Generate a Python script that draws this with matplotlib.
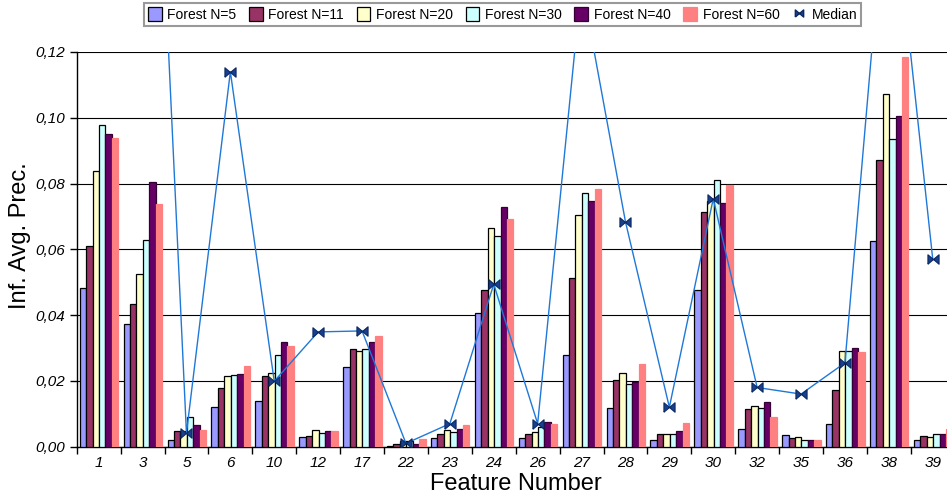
import matplotlib
matplotlib.use("Agg")
import matplotlib.pyplot as plt
import numpy as np
from matplotlib.lines import Line2D
from matplotlib.patches import Patch

features = ['1', '3', '5', '6', '10', '12', '17', '22', '23', '24', '26', '27',
            '28', '29', '30', '32', '35', '36', '38', '39']

n5 = [0.0481, 0.0373, 0.0021, 0.0121, 0.0139, 0.0028, 0.0243, 0.0003, 0.0027, 0.0408,
      0.0025, 0.0280, 0.0117, 0.0020, 0.0477, 0.0053, 0.0036, 0.0070, 0.0624, 0.0021]
n11 = [0.0610, 0.0435, 0.0048, 0.0177, 0.0216, 0.0032, 0.0296, 0.0008, 0.0039, 0.0475,
       0.0039, 0.0514, 0.0202, 0.0038, 0.0715, 0.0114, 0.0025, 0.0173, 0.0873, 0.0032]
n20 = [0.0838, 0.0524, 0.0048, 0.0216, 0.0223, 0.0050, 0.0290, 0.0017, 0.0050, 0.0664,
       0.0045, 0.0705, 0.0223, 0.0038, 0.0746, 0.0124, 0.0029, 0.0291, 0.1071, 0.0029]
n30 = [0.0978, 0.0627, 0.0091, 0.0219, 0.0280, 0.0041, 0.0297, 0.0017, 0.0046, 0.0642,
       0.0059, 0.0771, 0.0191, 0.0038, 0.0812, 0.0117, 0.0019, 0.0291, 0.0934, 0.0038]
n40 = [0.0951, 0.0806, 0.0065, 0.0221, 0.0319, 0.0048, 0.0317, 0.0008, 0.0053, 0.0730,
       0.0074, 0.0746, 0.0196, 0.0049, 0.0741, 0.0136, 0.0020, 0.0300, 0.1006, 0.0039]
n60 = [0.0940, 0.0738, 0.0052, 0.0245, 0.0306, 0.0048, 0.0338, 0.0023, 0.0066, 0.0691,
       0.0069, 0.0783, 0.0252, 0.0072, 0.0795, 0.0091, 0.0020, 0.0289, 0.1184, 0.0054]
median = [0.250, 0.289, 0.0041, 0.1140, 0.0199, 0.0349, 0.0352, 0.0010, 0.0070, 0.0494,
          0.0070, 0.141, 0.0684, 0.0120, 0.0754, 0.0180, 0.0160, 0.0255, 0.181, 0.0570]

series_names = ['Forest N=5', 'Forest N=11', 'Forest N=20', 'Forest N=30',
                'Forest N=40', 'Forest N=60']
series = [n5, n11, n20, n30, n40, n60]
colors = ['#9999FF', '#993366', '#FFFFCC', '#CCFFFF', '#660066', '#FF8080']
edges = ['black', 'black', 'black', 'black', '#330033', '#FF8080']

yticks = [0.00, 0.02, 0.04, 0.06, 0.08, 0.10, 0.12]

plt.rcParams['font.family'] = ['Liberation Sans', 'DejaVu Sans']

fig = plt.figure(figsize=(9.47, 4.95), dpi=100)
ax = fig.add_axes([76.7 / 947, 48.3 / 495, 878.0 / 947, 394.7 / 495])

x = np.arange(len(features))
w = 0.146
for i, (vals, c, ec) in enumerate(zip(series, colors, edges)):
    ax.bar(x + (i - 2.5) * w + 0.008, vals, width=w, color=c, edgecolor=ec,
           linewidth=0.9, zorder=3)

bowtie = [(-1, -0.85), (1, 0.85), (1, -0.85), (-1, 0.85), (-1, -0.85)]
ax.plot(x, median, color='#1F78D8', lw=1.0, marker=bowtie, markersize=8,
        markerfacecolor='#1A3F8F', markeredgecolor='#0A2860', markeredgewidth=0.8,
        zorder=4)

ax.set_xlim(-0.5, len(features) - 0.5)
ax.set_ylim(0, 0.12)
ax.set_yticks(yticks)
ax.set_yticklabels([f"{v:.2f}".replace('.', ',') for v in yticks],
                   fontsize=11, style='italic')
ax.yaxis.grid(True, color='black', lw=0.8, zorder=0)
ax.set_axisbelow(True)

ax.set_xticks(np.arange(len(features) + 1) - 0.5)
ax.set_xticklabels([])
ax.set_xticks(x, minor=True)
ax.set_xticklabels(features, minor=True, fontsize=11, style='italic')
ax.tick_params(axis='x', which='minor', length=0, pad=7)
ax.tick_params(axis='x', which='major', length=5, width=1, direction='out')
ax.tick_params(axis='y', length=5, width=1, direction='out', pad=3)

for s in ['top', 'right']:
    ax.spines[s].set_visible(False)
ax.spines['left'].set_linewidth(1)
ax.spines['bottom'].set_linewidth(1)

ax.set_ylabel('Inf. Avg. Prec.', fontsize=17)
ax.yaxis.set_label_coords(-0.052, 0.535)
ax.set_xlabel('Feature Number', fontsize=17, labelpad=2)

handles = [Patch(facecolor=c, edgecolor=ec, lw=0.9) for c, ec in zip(colors, edges)]
handles.append(Line2D([], [], linestyle='none', marker=bowtie, markersize=6,
                      markerfacecolor='#1A3F8F', markeredgecolor='#0A2860'))
leg = fig.legend(handles, series_names + ['Median'], loc='upper center',
                 bbox_to_anchor=(0.5306, 0.994), ncol=7, fontsize=10,
                 frameon=True, fancybox=False, edgecolor='#808080',
                 handlelength=1.0, handleheight=1.2, handletextpad=0.4,
                 columnspacing=0.9, borderpad=0.3, borderaxespad=0)
leg.get_frame().set_linewidth(1.5)

fig.savefig('out.png', dpi=100)
